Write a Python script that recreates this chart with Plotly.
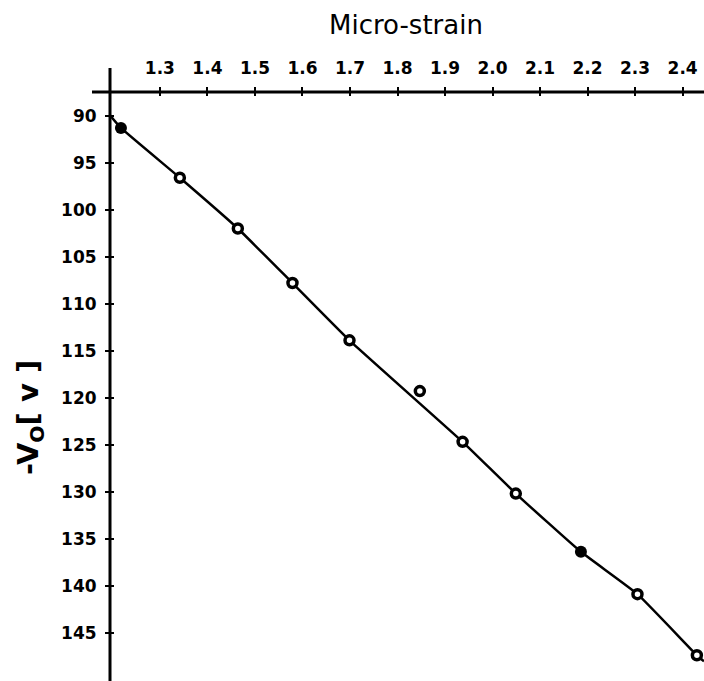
import plotly.graph_objects as go

# Measured points: micro-strain vs. output voltage (-Vo)
strain = [1.218, 1.342, 1.464, 1.579, 1.699, 1.847, 1.937, 2.049, 2.186, 2.305, 2.430]
volts = [91.3, 96.6, 102.0, 107.8, 113.9, 119.3, 124.7, 130.2, 136.4, 140.9, 147.4]
filled = [True, False, False, False, False, False, False, False, True, False, False]

# Calibration curve drawn through the data
curve_strain = [1.195, 1.218, 1.342, 1.464, 1.579, 1.699, 1.937, 2.049, 2.186, 2.305, 2.430, 2.445]
curve_volts = [89.95, 91.3, 96.6, 102.0, 107.8, 113.9, 124.7, 130.2, 136.4, 140.9, 147.4, 148.05]

x_ticks = [1.3, 1.4, 1.5, 1.6, 1.7, 1.8, 1.9, 2.0, 2.1, 2.2, 2.3, 2.4]
y_ticks = [90, 95, 100, 105, 110, 115, 120, 125, 130, 135, 140, 145]

X_RANGE = [1.195, 2.445]
Y_RANGE = [150.14, 87.48]

W, H = 704, 681
x0_px, y0_px = 110, 92

FONT = "DejaVu Sans, Liberation Sans, Arial, sans-serif"

fig = go.Figure()

fig.add_trace(go.Scatter(
    x=curve_strain, y=curve_volts, mode="lines",
    line=dict(color="black", width=2.5, shape="spline", smoothing=0.4),
    hoverinfo="skip", showlegend=False,
))

fs = [s for s, f in zip(strain, filled) if f]
fv = [v for v, f in zip(volts, filled) if f]
os_ = [s for s, f in zip(strain, filled) if not f]
ov = [v for v, f in zip(volts, filled) if not f]

fig.add_trace(go.Scatter(
    x=os_, y=ov, mode="markers",
    marker=dict(symbol="circle", size=9, color="white",
                line=dict(color="black", width=3.5)),
    showlegend=False,
))
fig.add_trace(go.Scatter(
    x=fs, y=fv, mode="markers",
    marker=dict(symbol="circle", size=12, color="black"),
    showlegend=False,
))

# empty trace so the overlay axes (inner tick halves) are drawn
fig.add_trace(go.Scatter(x=[None], y=[None], xaxis="x2", yaxis="y2",
                         showlegend=False, hoverinfo="skip"))

tick_font = dict(family=FONT, size=17, color="black", weight="bold")

x_dom = [x0_px / W, 1.0]
y_dom = [0.0, 1 - y0_px / H]

fig.update_layout(
    width=W, height=H, autosize=False,
    margin=dict(l=0, r=0, t=0, b=0),
    paper_bgcolor="white", plot_bgcolor="white",
    xaxis=dict(domain=x_dom, range=X_RANGE, side="top", anchor="y",
               tickvals=x_ticks, tickformat=".1f", ticks="outside",
               ticklen=4, tickwidth=2, tickcolor="black",
               tickfont=tick_font, ticklabelstandoff=6,
               showgrid=False, zeroline=False, showline=False),
    yaxis=dict(domain=y_dom, range=Y_RANGE, anchor="x",
               tickvals=y_ticks, ticks="outside",
               ticklen=4, tickwidth=2, tickcolor="black",
               tickfont=tick_font, ticklabelstandoff=5,
               showgrid=False, zeroline=False, showline=False),
    xaxis2=dict(domain=x_dom, range=X_RANGE, overlaying="x", matches="x",
                side="top", anchor="y2", tickvals=x_ticks, ticks="inside",
                ticklen=4, tickwidth=2, tickcolor="black",
                showticklabels=False, showgrid=False, zeroline=False),
    yaxis2=dict(domain=y_dom, range=Y_RANGE, overlaying="y", matches="y",
                anchor="x2", tickvals=y_ticks, ticks="inside",
                ticklen=4, tickwidth=2, tickcolor="black",
                showticklabels=False, showgrid=False, zeroline=False),
    shapes=[
        # vertical axis, extending slightly above the top axis
        dict(type="line", xref="paper", yref="paper",
             x0=x0_px / W, x1=x0_px / W, y0=1 - 68 / H, y1=0,
             line=dict(color="black", width=3)),
        # top axis, extending slightly left of the vertical axis
        dict(type="line", xref="paper", yref="paper",
             x0=92 / W, x1=1, y0=1 - y0_px / H, y1=1 - y0_px / H,
             line=dict(color="black", width=3)),
    ],
    annotations=[
        dict(text="Micro-strain", xref="paper", yref="paper",
             x=327 / W, y=1 - 25 / H, xanchor="left", yanchor="middle",
             showarrow=False,
             font=dict(family=FONT, size=26, color="black")),
        dict(text="-V<sub>O</sub>[ v ]", xref="paper", yref="paper",
             x=30 / W, y=1 - 417 / H, xanchor="center", yanchor="middle",
             textangle=-90, showarrow=False,
             font=dict(family=FONT, size=29, color="black", weight="bold")),
    ],
)

fig.write_html("out.html")
